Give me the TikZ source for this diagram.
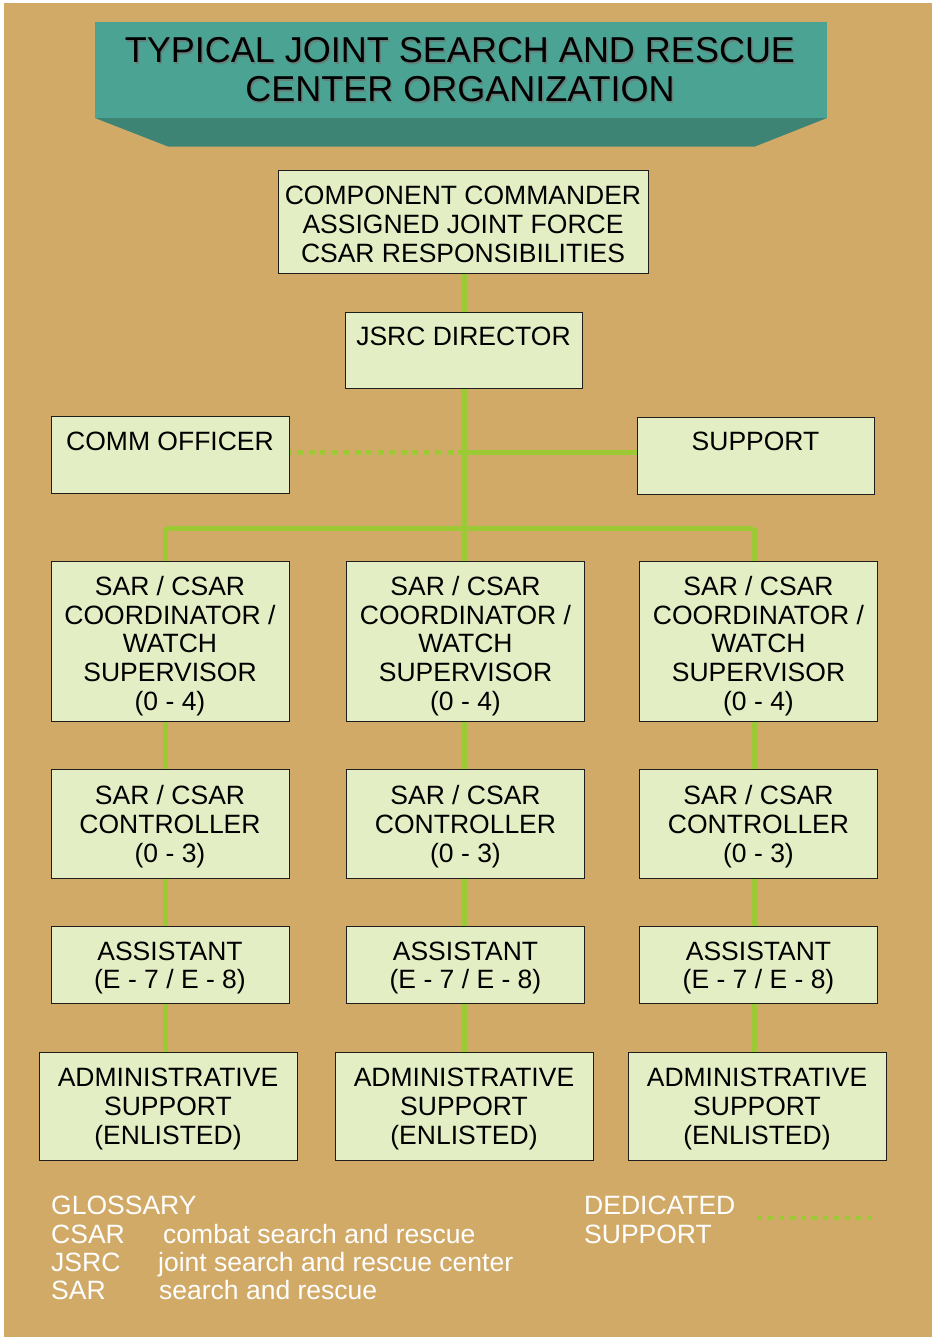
\documentclass[tikz,border=0pt]{standalone}
\usepackage{fontspec}
\setmainfont{Liberation Sans}
\usetikzlibrary{calc}
\definecolor{bgtan}{RGB}{210,170,104}
\definecolor{tealtop}{RGB}{75,163,147}
\definecolor{tealdark}{RGB}{61,132,116}
\definecolor{boxfill}{RGB}{228,238,196}
\definecolor{boxline}{RGB}{30,30,30}
\definecolor{lgreen}{RGB}{156,202,52}
\definecolor{shadowgrey}{RGB}{100,130,124}
\tikzset{
  box/.style={draw=boxline, line width=0.9pt, fill=boxfill, inner sep=0pt},
  lbl/.style={inner sep=0pt, align=center, font=\fontsize{26.5}{28.7}\selectfont},
  conn/.style={draw=lgreen, line width=5pt},
  dotline/.style={draw=lgreen, line width=5pt, dash pattern=on 6pt off 5.5pt},
  legdot/.style={draw=lgreen, line width=4.5pt, dash pattern=on 4.5pt off 6.5pt},
  gloss/.style={inner sep=0pt, anchor=base west, text=white, font=\fontsize{26.5}{28}\selectfont},
  ttl/.style={inner sep=0pt, align=center, font=\fontsize{36}{39}\selectfont}
}
\begin{document}
\begin{tikzpicture}[x=1pt,y=-1pt]
\fill[white] (0,0) rectangle (936,1339);
\fill[bgtan] (4,3) rectangle (932,1337);
\useasboundingbox (0,0) rectangle (936,1339);
% title banner
\fill[tealtop] (95,22) rectangle (827,118);
\fill[tealdark] (95,118) -- (827,118) -- (755,146.5) -- (168,146.5) -- cycle;
\node[ttl, text=shadowgrey] (titleshadow) at (461.5,71.5) {TYPICAL JOINT SEARCH AND RESCUE\\CENTER ORGANIZATION};
\node[ttl, text=black] (title) at (460,70) {TYPICAL JOINT SEARCH AND RESCUE\\CENTER ORGANIZATION};
% coordinates for connectors
\coordinate (bar) at (464,528);
\coordinate (hub) at (464,452.5);
\coordinate (bl) at (165,528);
\coordinate (br) at (754,528);
% connectors (behind boxes)
\draw[conn] (bl) -- (br);
\draw[conn] (464,273) -- (bar);
\draw[conn] (hub) -- (637,452.5);
\draw[dotline] (hub) -- (289,452.5);
\draw[conn] (bl) -- (165,1052);
\draw[conn] (bar) -- (464,1052);
\draw[conn] (br) -- (754,1052);
% top boxes
\node[box, minimum width=370pt, minimum height=103pt] (comp) at (463,221.5) {};
\node[lbl] (compt) at ($(comp.center)+(0,3)$) {COMPONENT COMMANDER\\ASSIGNED JOINT FORCE\\CSAR RESPONSIBILITIES};
\node[box, minimum width=237pt, minimum height=76pt] (dir) at (463.5,350) {};
\node[lbl, anchor=north] (dirt) at ($(dir.north)+(0,15.5)$) {JSRC DIRECTOR};
\node[box, minimum width=238pt, minimum height=77pt] (comm) at (170,454.5) {};
\node[lbl, anchor=north] (commt) at ($(comm.north)+(0,16.5)$) {COMM OFFICER};
\node[box, minimum width=237pt, minimum height=77pt] (sup) at (755.5,455.5) {};
\node[lbl, anchor=north] (supt) at ($(sup.north)+(0,15.5)$) {SUPPORT};
% columns
\foreach \i/\cx/\ax in {1/170/168, 2/465.5/464, 3/758.5/757}{
  \node[box, minimum width=238pt, minimum height=160pt] (co\i) at (\cx,641) {};
  \node[lbl] (cot\i) at ($(co\i.center)+(0,5)$) {SAR / CSAR\\COORDINATOR /\\WATCH\\SUPERVISOR\\(0 - 4)};
  \node[box, minimum width=238pt, minimum height=109pt] (ct\i) at (\cx,823.5) {};
  \node[lbl] (ctt\i) at ($(ct\i.center)+(0,3)$) {SAR / CSAR\\CONTROLLER\\(0 - 3)};
  \node[box, minimum width=238pt, minimum height=77pt] (as\i) at (\cx,964.5) {};
  \node[lbl] (ast\i) at ($(as\i.center)+(0,3.5)$) {ASSISTANT\\(E - 7 / E - 8)};
  \node[box, minimum width=258pt, minimum height=108pt] (ad\i) at (\ax,1106) {};
  \node[lbl] (adt\i) at ($(ad\i.center)+(0,3)$) {ADMINISTRATIVE\\SUPPORT\\(ENLISTED)};
}
% glossary
\node[gloss] (g0) at (51,1214.5) {GLOSSARY};
\node[gloss] (g1) at (51,1243) {CSAR};
\node[gloss] (g1d) at (163,1243) {combat search and rescue};
\node[gloss] (g2) at (51,1271) {JSRC};
\node[gloss] (g2d) at (158,1271) {joint search and rescue center};
\node[gloss] (g3) at (51,1299) {SAR};
\node[gloss] (g3d) at (159,1299) {search and rescue};
\node[gloss] (l1) at (584,1214.5) {DEDICATED};
\node[gloss] (l2) at (584,1243) {SUPPORT};
\coordinate (la) at (757,1218);
\coordinate (lb) at (875,1218);
\draw[legdot] (la) -- (lb);
\end{tikzpicture}
\end{document}
